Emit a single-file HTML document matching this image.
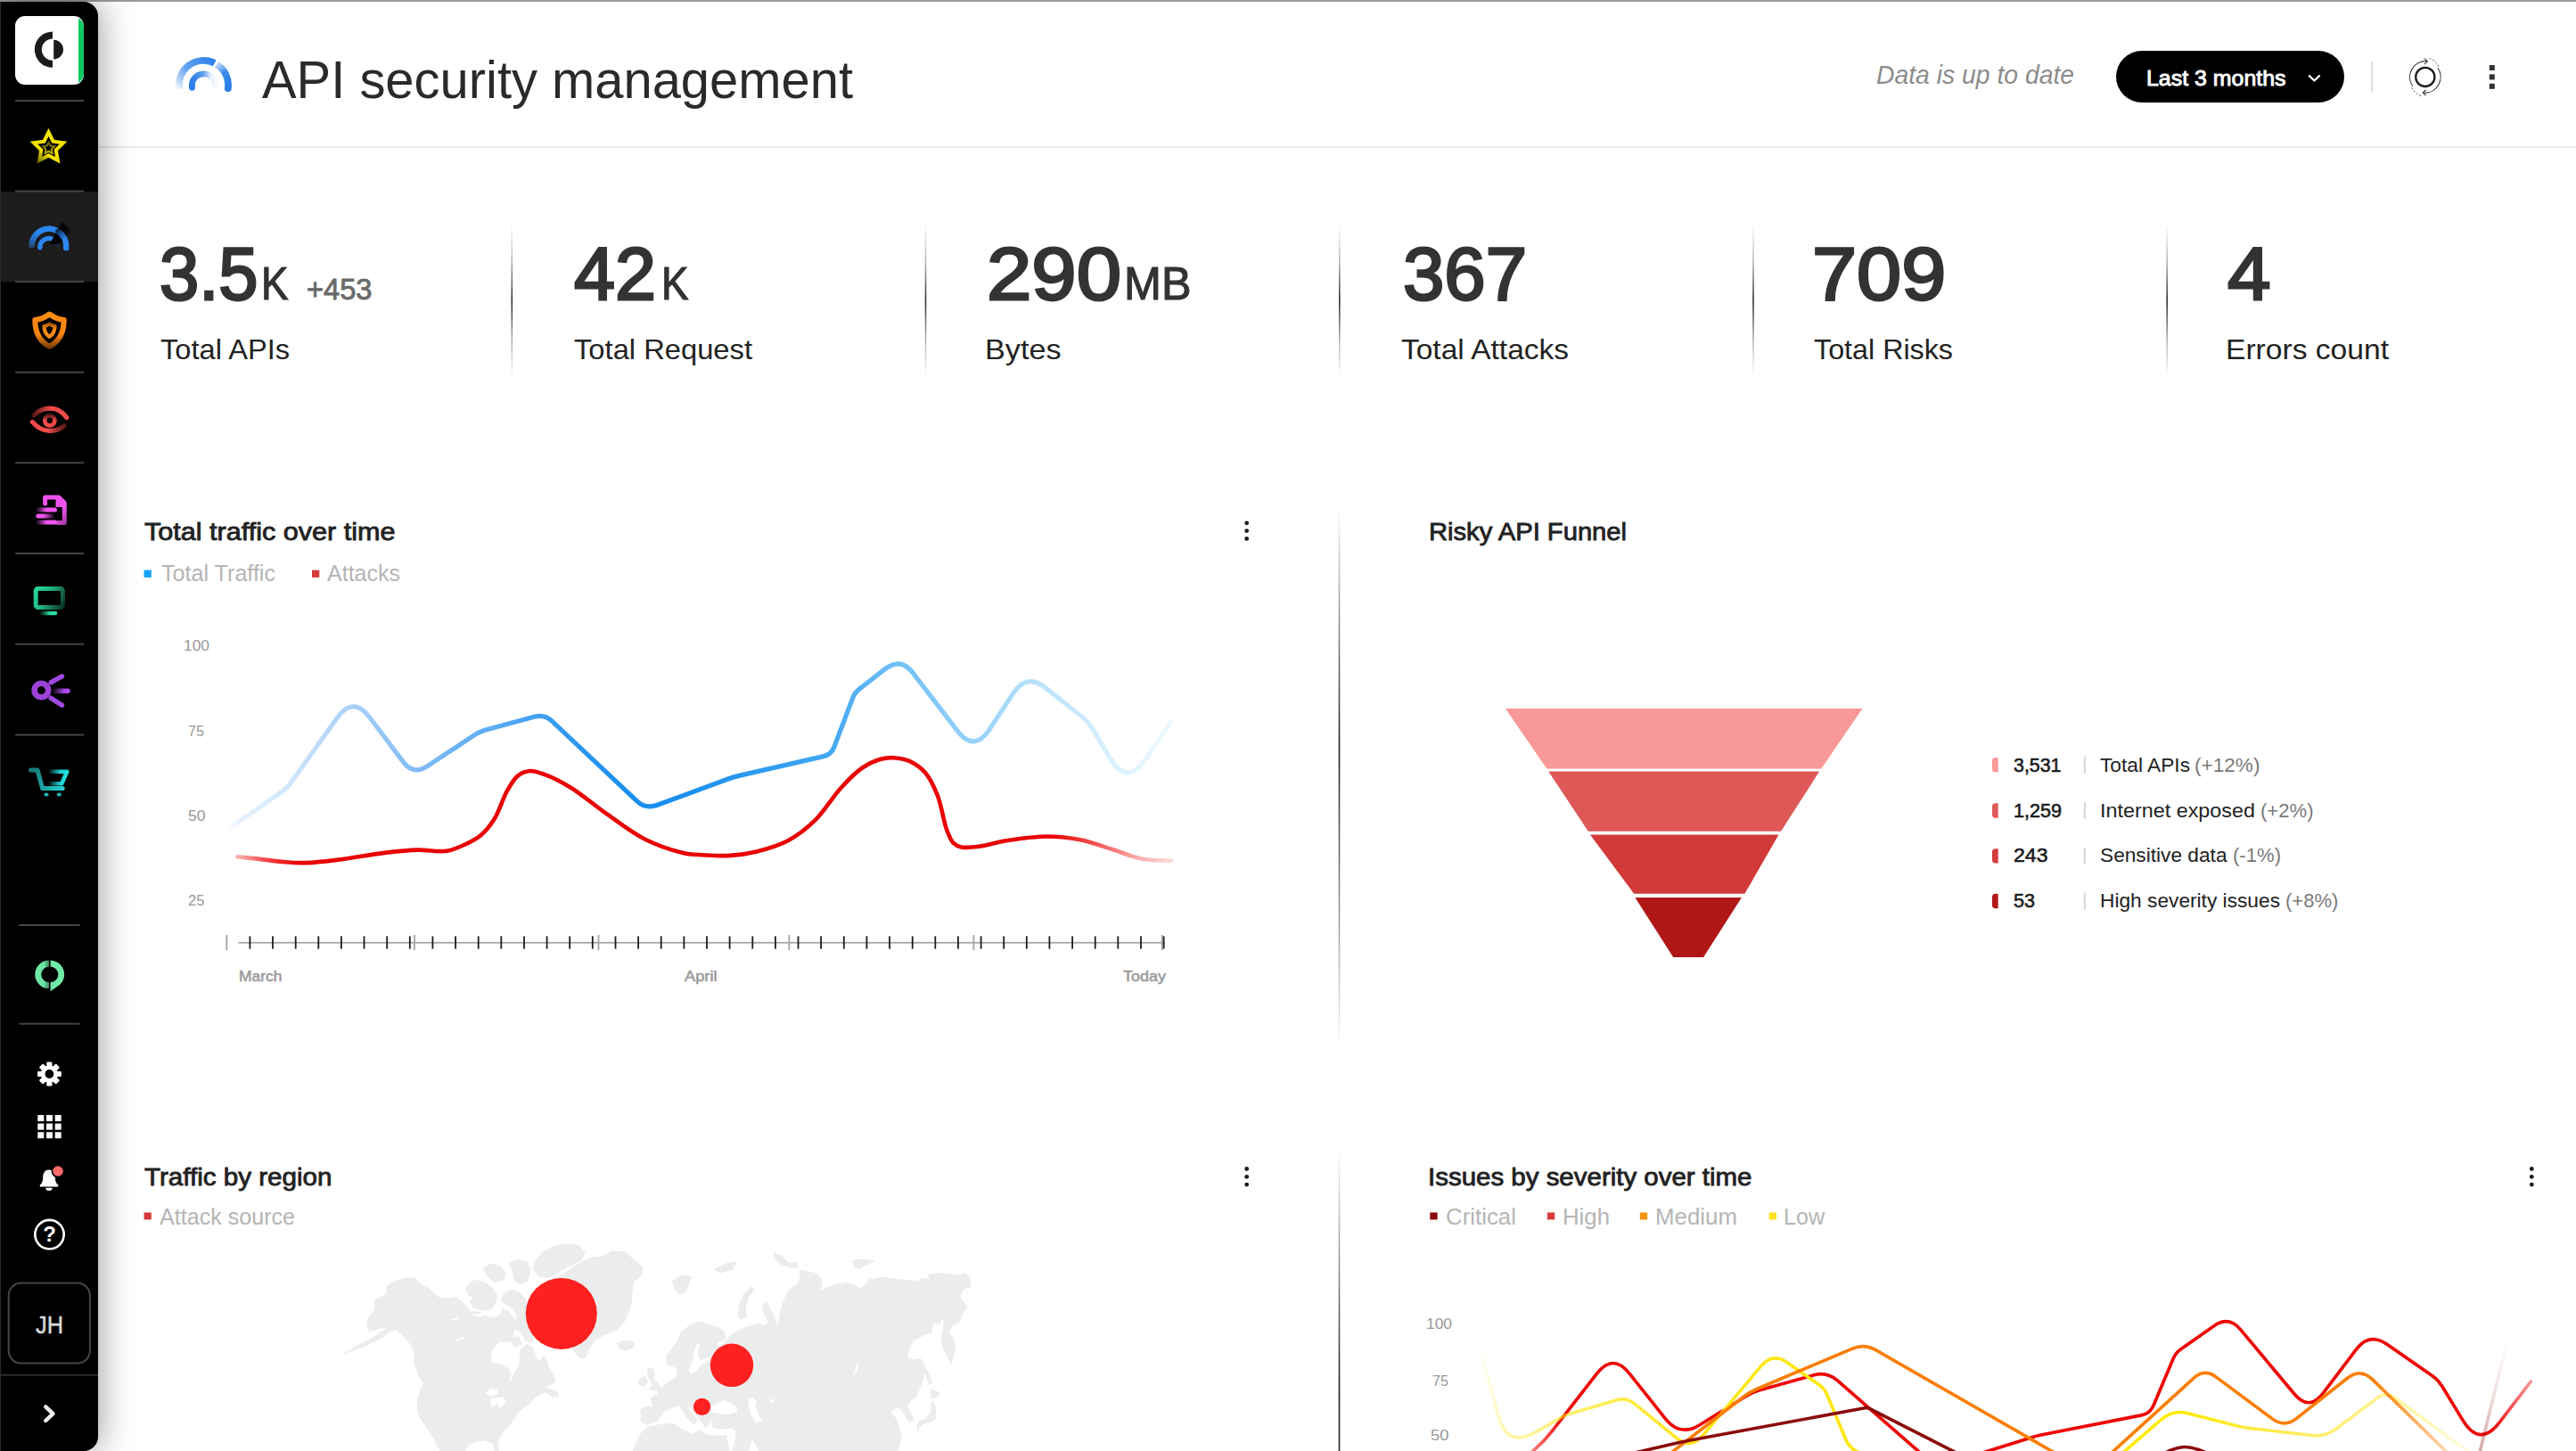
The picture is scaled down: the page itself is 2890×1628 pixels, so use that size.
<!DOCTYPE html>
<html lang="en"><head><meta charset="utf-8"><title>API security management</title>
<style>
html,body{margin:0;padding:0;background:#fff;}
body{width:2890px;height:1628px;overflow:hidden;font-family:"Liberation Sans",sans-serif;}
#page{position:relative;width:2890px;height:1628px;overflow:hidden;background:#fff;}
.t{position:absolute;white-space:nowrap;transform-origin:0 50%;font-family:"Liberation Sans",sans-serif;}
#main{position:absolute;left:0;top:0;}
.abs{position:absolute;}

</style></head>
<body>
<div id="page">
<div class="abs" style="left:0;top:0;width:2890px;height:2px;background:#9b9b9b"></div>
<div class="abs" style="left:110px;top:164px;width:2780px;height:2px;background:#e9e9e9"></div>
<div class="abs" style="left:2374px;top:57px;width:256px;height:58px;border-radius:29px;background:#000"></div>
<div class="abs" style="left:2660px;top:69px;width:2px;height:34px;background:#e0e0e0"></div>

<svg id="main" width="2890" height="1628" viewBox="0 0 2890 1628">
<g>
<path d="M421.0 1468.7L420.2 1458.9L427.6 1455.6L434.1 1450.7L434.9 1442.5L445.6 1436.7L457.1 1433.5L465.3 1434.3L471.8 1440.8L481.7 1446.6L491.5 1455.6L501.4 1457.2L511.2 1455.6L517.8 1460.5L524.3 1467.1L528.4 1472.0L537.5 1472.0L545.7 1476.9L553.9 1479.4L562.1 1475.3L563.7 1468.7L570.3 1472.0L576.8 1479.4L580.1 1488.4L575.2 1495.0L576.8 1503.2L570.3 1504.8L560.4 1504.8L553.9 1511.4L549.8 1521.2L552.2 1529.4L560.4 1531.1L570.3 1536.0L573.5 1542.5L570.3 1549.1L574.4 1549.9L576.8 1540.9L582.6 1532.7L583.4 1521.2L585.0 1513.0L591.6 1508.1L598.1 1513.0L601.4 1524.5L606.3 1527.0L609.6 1521.2L612.9 1526.1L616.2 1536.0L621.1 1544.2L622.7 1549.9L616.2 1554.0L609.6 1555.7L616.2 1558.9L624.4 1560.6L626.8 1567.1L617.8 1566.3L612.9 1561.4L606.3 1563.9L598.1 1569.6L593.2 1575.3L585.0 1581.1L579.3 1586.8L575.2 1593.4L570.3 1600.8L563.7 1606.5L559.6 1613.1L558.0 1619.6L559.6 1629.5L555.5 1629.5L553.0 1619.6L544.0 1615.5L534.2 1617.2L526.0 1620.4L520.2 1629.5L494.8 1629.5L486.6 1613.1L480.9 1604.9L476.8 1598.3L471.0 1590.1L468.6 1580.3L468.6 1570.4L471.8 1560.6L475.9 1552.4L470.2 1544.2L467.7 1536.0L464.5 1527.8L465.3 1517.9L462.0 1509.7L455.4 1501.5L448.9 1495.0L444.0 1490.9L437.4 1494.1L429.2 1499.9L417.7 1506.5L401.3 1513.0L386.6 1518.8L399.7 1510.6L414.4 1503.2L427.6 1495.0L435.8 1490.0L427.6 1490.0L414.4 1493.3L412.0 1486.8L412.8 1480.2Z M522.7 1446.6L528.4 1439.2L534.2 1435.9L544.0 1439.2L552.2 1445.8L557.1 1454.0L556.3 1462.2L550.6 1468.7L540.7 1470.4L530.9 1467.1L527.6 1460.5L532.5 1455.6L526.0 1453.1Z M542.4 1422.8L552.2 1417.9L560.4 1420.3L567.0 1427.7L565.3 1435.9L555.5 1438.4L547.3 1432.6Z M571.9 1417.9L581.7 1413.0L591.6 1416.2L594.9 1426.1L591.6 1437.6L583.4 1440.8L576.8 1435.9L575.2 1426.1Z M565.3 1452.3L573.5 1447.4L583.4 1450.7L589.9 1458.9L591.6 1468.7L590.8 1481.8L594.9 1490.0L599.8 1498.2L596.5 1506.5L589.9 1503.2L585.0 1495.0L576.8 1490.0L580.1 1478.6L576.8 1468.7L568.6 1463.8L562.1 1458.9Z M598.1 1424.4L601.4 1414.6L609.6 1404.8L619.5 1399.0L632.6 1396.2L649.0 1397.4L656.4 1405.6L650.6 1414.6L639.1 1420.3L629.3 1425.3L621.1 1431.0L612.9 1433.5L604.7 1431.8Z M573.5 1503.2L581.7 1499.9L585.0 1508.1L576.8 1511.4Z M632.6 1429.4L642.4 1422.0L655.5 1414.6L665.4 1410.5L675.2 1410.5L686.7 1403.9L701.5 1404.8L709.7 1413.0L721.2 1422.0L719.5 1431.0L711.3 1437.6L708.9 1449.0L708.0 1462.2L704.7 1473.6L699.8 1483.5L691.6 1491.7L678.5 1497.4L667.0 1503.2L660.5 1513.0L657.2 1522.9L652.3 1523.7L645.7 1517.9L640.8 1509.7L626.0 1504.8L609.6 1491.7L599.8 1475.3L598.1 1458.9L606.3 1444.1L617.8 1435.9Z M692.4 1507.3L699.8 1504.0L710.5 1505.6L711.3 1510.6L703.1 1514.7L695.7 1513.0Z M754.1 1437.6L765.6 1431.0L775.4 1432.6L772.2 1442.5L768.9 1449.0L762.3 1452.3L757.4 1445.8Z M801.7 1424.4L814.8 1417.9L826.3 1416.2L821.4 1424.4L808.2 1427.7Z M827.9 1476.9L829.6 1463.8L834.5 1452.3L842.7 1444.1L846.0 1446.6L839.4 1455.6L836.1 1467.1L837.0 1476.9L831.2 1480.2Z M867.3 1405.6L877.1 1409.7L885.3 1417.9L893.5 1416.2L895.2 1422.8L883.7 1421.2L872.2 1416.2Z M957.5 1414.6L969.0 1413.0L980.5 1414.6L970.6 1419.5L962.4 1422.8Z M717.2 1547.5L723.0 1544.2L726.2 1549.9L723.0 1554.8L717.2 1554.0Z M727.1 1536.0L731.2 1534.3L734.4 1540.9L732.8 1545.8L737.7 1551.6L741.0 1557.3L737.7 1559.8L729.5 1558.9L732.0 1552.4L728.7 1547.5L726.2 1540.9Z M719.7 1595.0L718.9 1581.9L724.6 1578.6L732.8 1578.6L730.3 1568.8L738.5 1563.9L737.7 1560.6L744.3 1555.7L750.8 1549.9L757.4 1546.6L760.7 1540.9L758.2 1534.3L763.1 1532.7L765.6 1538.4L768.9 1537.6L749.2 1531.1L747.6 1521.2L754.1 1513.0L760.7 1504.8L764.0 1495.0L772.2 1488.4L783.6 1483.2L796.8 1486.8L806.6 1490.0L813.2 1495.8L812.4 1503.2L805.0 1504.8L803.3 1508.1L808.2 1511.4L814.8 1504.8L819.7 1498.2L827.9 1493.3L839.4 1488.4L850.9 1485.9L857.5 1488.4L862.4 1483.5L857.5 1475.3L855.8 1463.8L860.7 1462.2L865.7 1472.0L870.6 1481.8L872.2 1493.3L873.9 1483.5L876.3 1468.7L880.4 1457.2L885.3 1447.4L895.2 1440.8L898.5 1431.0L896.8 1425.3L906.7 1426.9L916.5 1429.4L922.2 1437.6L919.8 1448.2L929.6 1444.1L941.1 1440.8L950.9 1439.2L959.1 1442.5L965.7 1446.6L975.5 1435.9L988.7 1433.0L1003.4 1435.1L1016.5 1436.7L1028.0 1437.6L1033.0 1435.1L1036.1 1434.3L1044.3 1437.6L1041.1 1431.0L1050.9 1428.5L1064.0 1429.4L1077.1 1431.0L1080.4 1429.4L1087.0 1432.6L1089.4 1443.3L1080.4 1445.8L1077.1 1454.0L1078.8 1458.9L1085.3 1466.3L1080.4 1472.0L1076.3 1483.5L1072.2 1485.1L1067.3 1488.4L1064.0 1495.0L1070.6 1504.8L1071.4 1514.7L1068.9 1524.5L1067.3 1530.2L1062.4 1521.2L1057.5 1511.4L1055.8 1503.2L1058.3 1491.7L1059.1 1481.8L1056.6 1476.9L1054.2 1485.1L1047.6 1483.5L1044.3 1495.0L1036.1 1498.2L1024.7 1503.2L1020.6 1511.4L1017.3 1522.9L1024.7 1526.1L1031.2 1524.5L1036.1 1536.0L1035.3 1547.5L1031.2 1558.9L1027.9 1567.1L1022.2 1570.4L1017.3 1578.6L1021.4 1585.2L1024.7 1591.7L1020.6 1595.8L1014.8 1586.8L1011.5 1580.3L1005.0 1578.6L998.4 1585.2L1005.0 1591.7L1008.2 1601.6L1011.5 1611.4L1008.2 1622.9L1006.6 1629.5L852.5 1629.5L847.6 1619.6L844.3 1614.7L841.1 1619.6L839.4 1629.5L821.4 1629.5L824.7 1619.6L826.3 1606.5L821.4 1601.6L811.5 1603.2L800.0 1601.6L798.4 1595.0L805.0 1590.1L798.4 1591.7L795.1 1596.7L791.8 1601.6L788.6 1596.7L782.0 1588.5L775.4 1580.3L768.9 1575.3L770.5 1578.6L775.4 1585.2L782.0 1593.4L778.7 1598.3L772.2 1591.7L765.6 1581.9L762.3 1577.0L754.1 1578.6L744.3 1583.5L737.7 1593.4L726.2 1598.3Z M709.8 1629.5L718.0 1609.8L726.2 1601.6L741.0 1598.3L755.8 1597.5L763.1 1603.2L777.1 1609.0L785.3 1604.9L791.8 1609.8L805.0 1611.4L814.8 1610.6L818.1 1629.5Z M1032.9 1524.5L1036.1 1531.1L1042.7 1542.5L1045.2 1552.4L1042.7 1553.2L1038.6 1542.5L1033.7 1531.1Z M1044.3 1558.9L1053.4 1562.2L1050.9 1567.1L1045.2 1569.6Z M1046.0 1572.1L1049.3 1578.6L1050.1 1590.1L1044.3 1595.0L1036.1 1596.7L1031.2 1601.6L1030.4 1605.7L1028.8 1599.9L1031.2 1595.0L1039.4 1591.7L1044.3 1585.2L1045.2 1577.0Z M956.6 1414.6L965.6 1413.0L971.3 1416.2L965.6 1422.8L959.0 1421.2Z M1078.0 1431.0L1082.1 1429.4L1087.0 1432.6L1083.7 1435.9Z" fill="#ebecec" stroke="#ebecec" stroke-width="1.2" stroke-linejoin="round"/>
<path d="M544.0 1562.2L551.4 1558.1L558.0 1559.8L558.8 1564.2L550.6 1566.8Z M550.6 1569.6L556.3 1568.0L565.3 1567.5L567.0 1574.5L559.6 1580.3L558.0 1573.7L553.9 1578.6L550.6 1577.0Z M506.3 1479.9L514.5 1477.7L514.8 1479.6L507.1 1482.2Z M511.2 1503.5L521.1 1499.6L521.7 1501.2L512.2 1505.1Z M528.4 1475.3L542.4 1472.8L548.9 1474.5L537.5 1477.7Z M772.2 1537.6L777.1 1527.8L778.7 1516.3L782.0 1508.1L784.5 1507.3L782.8 1519.6L785.3 1526.1L791.8 1523.7L798.4 1522.9L796.8 1526.1L786.9 1531.1L782.0 1537.6L775.4 1541.7Z M797.6 1578.6L805.0 1574.5L813.2 1570.4L818.1 1573.7L826.3 1578.6L827.1 1584.4L818.1 1586.8L806.6 1586.0L798.4 1584.4Z M839.4 1570.4L844.3 1568.0L849.3 1572.1L847.6 1578.6L850.9 1586.8L855.8 1595.0L847.6 1595.8L842.7 1586.8L840.2 1578.6Z M863.2 1570.4L866.5 1569.6L868.1 1572.9L864.8 1574.5Z M960.8 1528.6L962.8 1532.7L960.8 1540.1L956.7 1545.0L959.1 1537.6Z" fill="#fff"/>
<circle cx="629.8" cy="1473.9" r="40" fill="#ff2020"/>
<circle cx="821" cy="1531.8" r="24.2" fill="#ff2020"/>
<circle cx="787.6" cy="1578.4" r="9.6" fill="#ff2020"/>
</g>

<defs>
<linearGradient id="gBlue" gradientUnits="userSpaceOnUse" x1="250" y1="0" x2="1314" y2="0"><stop offset="0.0000" stop-color="#eef6ff" stop-opacity="0.0"/><stop offset="0.0188" stop-color="#e6f1fd"/><stop offset="0.0677" stop-color="#d2e6fb"/><stop offset="0.1372" stop-color="#a9d0f8"/><stop offset="0.2039" stop-color="#80bbf6"/><stop offset="0.2707" stop-color="#63aef5"/><stop offset="0.3336" stop-color="#3f9ff2"/><stop offset="0.4229" stop-color="#1a8fee"/><stop offset="0.4793" stop-color="#1a8fee"/><stop offset="0.5376" stop-color="#2797ef"/><stop offset="0.6353" stop-color="#41a6f2"/><stop offset="0.6701" stop-color="#58b3f4"/><stop offset="0.7115" stop-color="#6fbff6"/><stop offset="0.7914" stop-color="#98d2f9"/><stop offset="0.8506" stop-color="#b5e0fb"/><stop offset="0.9117" stop-color="#d0ebfc"/><stop offset="0.9539" stop-color="#e0f3fd"/><stop offset="1.0000" stop-color="#eef9fe"/></linearGradient>
<linearGradient id="gRed" gradientUnits="userSpaceOnUse" x1="266" y1="0" x2="1314" y2="0"><stop offset="0.0000" stop-color="#f20000" stop-opacity="0.3"/><stop offset="0.0324" stop-color="#ee0000" stop-opacity="0.75"/><stop offset="0.0658" stop-color="#e90000"/><stop offset="0.8721" stop-color="#e90000"/><stop offset="0.9198" stop-color="#ee1c1c" stop-opacity="0.75"/><stop offset="0.9676" stop-color="#f23030" stop-opacity="0.38"/><stop offset="1.0000" stop-color="#f44" stop-opacity="0.2"/></linearGradient>
<linearGradient id="gDivK" x1="0" y1="0" x2="0" y2="1"><stop offset="0" stop-color="#2c2c2c" stop-opacity="0"/><stop offset=".25" stop-color="#2c2c2c" stop-opacity=".36"/><stop offset=".5" stop-color="#2a2a2a" stop-opacity=".98"/><stop offset=".75" stop-color="#2c2c2c" stop-opacity=".36"/><stop offset="1" stop-color="#2c2c2c" stop-opacity="0"/></linearGradient>
<linearGradient id="gDivV" x1="0" y1="0" x2="0" y2="1"><stop offset="0" stop-color="#1c1c1c" stop-opacity="0"/><stop offset=".45" stop-color="#1c1c1c" stop-opacity="1"/><stop offset="1" stop-color="#1c1c1c" stop-opacity="0"/></linearGradient>
<linearGradient id="gDivV2" x1="0" y1="0" x2="0" y2="1"><stop offset="0" stop-color="#1c1c1c" stop-opacity="0"/><stop offset=".8" stop-color="#1c1c1c" stop-opacity="1"/><stop offset="1" stop-color="#1c1c1c" stop-opacity=".95"/></linearGradient>
<linearGradient id="gLow" gradientUnits="userSpaceOnUse" x1="1659" y1="0" x2="2770" y2="0"><stop offset="0.0000" stop-color="#ffe617" stop-opacity="0.0"/><stop offset="0.0279" stop-color="#ffe617" stop-opacity="0.35"/><stop offset="0.0909" stop-color="#ffe617" stop-opacity="0.62"/><stop offset="0.1809" stop-color="#ffe617" stop-opacity="0.9"/><stop offset="0.2169" stop-color="#ffe617"/><stop offset="0.7030" stop-color="#ffea00"/><stop offset="0.7750" stop-color="#ffe617" stop-opacity="0.85"/><stop offset="0.8650" stop-color="#ffe617" stop-opacity="0.6"/><stop offset="0.9370" stop-color="#ffe617" stop-opacity="0.4"/><stop offset="1.0000" stop-color="#ffe617" stop-opacity="0.12"/></linearGradient>
<linearGradient id="gHigh" gradientUnits="userSpaceOnUse" x1="1700" y1="0" x2="2840" y2="0"><stop offset="0.0000" stop-color="#ee0000" stop-opacity="0.25"/><stop offset="0.0193" stop-color="#ee0000" stop-opacity="0.55"/><stop offset="0.0482" stop-color="#ee0000"/><stop offset="0.9605" stop-color="#ee0000"/><stop offset="1.0000" stop-color="#f02020" stop-opacity="0.45"/></linearGradient>
<linearGradient id="gMed" gradientUnits="userSpaceOnUse" x1="1860" y1="0" x2="2745" y2="0"><stop offset="0.0000" stop-color="#fa7d00"/><stop offset="0.9040" stop-color="#fa7d00"/><stop offset="0.9492" stop-color="#fa7d00" stop-opacity="0.7"/><stop offset="1.0000" stop-color="#fa7d00" stop-opacity="0.3"/></linearGradient>
<linearGradient id="gCr3" gradientUnits="userSpaceOnUse" x1="0" y1="1506" x2="0" y2="1628"><stop offset="0.0000" stop-color="#8b0a0a" stop-opacity="0.0"/><stop offset="0.4426" stop-color="#8b0a0a" stop-opacity="0.12"/><stop offset="1.0000" stop-color="#8b0a0a" stop-opacity="0.35"/></linearGradient>
<linearGradient id="gHa" gradientUnits="userSpaceOnUse" x1="201" y1="101" x2="236" y2="64"><stop offset="0" stop-color="#2c80e8" stop-opacity=".06"/><stop offset=".45" stop-color="#4a94ec" stop-opacity=".85"/><stop offset="1" stop-color="#2a7fe8"/></linearGradient>
<linearGradient id="gHb" gradientUnits="userSpaceOnUse" x1="241" y1="70" x2="256" y2="96"><stop offset="0" stop-color="#2a7fe8" stop-opacity=".12"/><stop offset=".5" stop-color="#2a7fe8" stop-opacity=".9"/><stop offset="1" stop-color="#2a7fe8"/></linearGradient>
<linearGradient id="gHc" gradientUnits="userSpaceOnUse" x1="215" y1="90" x2="242" y2="90"><stop offset="0" stop-color="#2a7fe8"/><stop offset=".45" stop-color="#3c8aea" stop-opacity=".85"/><stop offset=".8" stop-color="#2a7fe8" stop-opacity=".12"/><stop offset="1" stop-color="#2a7fe8" stop-opacity=".04"/></linearGradient>
</defs>
<path d="M250.7 934.0L317.0 887.7Q321.9 884.3 325.4 879.4L378.3 805.3Q396.1 780.4 414.6 804.8L452.6 855.1Q463.9 869.9 479.4 859.7L533.1 824.2Q538.1 820.9 543.9 819.3L600.0 804.1Q610.8 801.2 619.0 808.8L714.4 898.6Q724.4 908.1 737.3 903.3L814.7 874.7Q822.2 871.9 830.0 870.1L923.8 848.6Q932.6 846.6 935.8 838.2L956.9 782.7Q959.0 777.1 963.8 773.4L992.6 750.9Q1010.4 736.9 1024.1 754.9L1073.8 819.7Q1092.9 844.7 1110.1 818.4L1136.8 777.8Q1151.9 754.9 1173.4 772.0L1215.2 805.2Q1220.7 809.6 1224.3 815.6L1245.5 850.9Q1264.3 882.1 1285.0 852.1L1314.0 810.2" fill="none" stroke="url(#gBlue)" stroke-width="5.2" stroke-linecap="round" stroke-linejoin="round"/>
<path d="M266.4 961.3C272.5 961.9 277.7 962.3 284.8 963.1C294.7 964.2 309.7 966.5 320.4 967.3C329.1 968.0 335.3 968.4 344.0 968.1C354.7 967.8 366.6 966.2 379.6 964.6C395.6 962.6 417.0 958.5 433.0 956.6C446.0 955.1 456.9 953.9 468.5 953.6C479.6 953.3 491.5 956.3 501.0 954.8C508.9 953.6 515.4 950.4 521.9 947.4C528.2 944.5 534.3 941.5 539.6 937.0C545.2 932.2 549.9 926.5 554.4 919.3C560.0 910.4 564.2 895.5 569.3 886.7C573.1 880.1 576.4 874.0 581.0 870.4C584.9 867.3 589.7 865.4 594.4 865.0C599.5 864.6 604.6 866.7 610.7 868.9C619.3 872.0 630.1 877.4 640.4 883.7C652.7 891.2 665.5 902.5 678.9 911.9C693.1 921.8 708.0 933.9 723.3 941.5C737.7 948.7 755.4 954.5 767.8 957.2C776.2 959.1 781.8 958.8 789.6 959.3C798.7 959.8 809.4 960.5 819.3 959.9C829.2 959.3 838.7 957.9 848.9 955.4C860.3 952.6 873.5 948.8 884.4 943.0C895.2 937.2 904.7 929.8 914.1 920.7C924.7 910.5 934.0 894.2 943.7 883.7C951.7 875.0 959.3 867.0 967.4 861.5C974.2 856.9 981.6 853.5 988.1 851.7C993.3 850.2 997.8 849.9 1003.0 850.2C1008.7 850.5 1015.1 851.5 1020.7 854.1C1026.9 857.0 1033.5 861.6 1038.5 867.4C1044.2 874.0 1048.1 883.1 1051.9 892.6C1056.3 903.9 1058.5 921.4 1062.2 931.1C1064.6 937.3 1066.4 942.7 1069.6 945.9C1072.1 948.4 1074.8 949.6 1078.5 950.4C1083.6 951.5 1090.6 950.7 1097.8 949.8C1107.3 948.7 1118.6 944.8 1130.4 943.0C1144.0 940.9 1160.5 938.5 1174.8 938.5C1188.1 938.5 1200.8 939.9 1213.3 942.4C1225.5 944.9 1237.3 949.7 1248.9 953.3C1260.0 956.8 1270.5 961.6 1281.5 963.7C1292.2 965.7 1303.2 965.1 1314.0 965.8" fill="none" stroke="url(#gRed)" stroke-width="4.6" stroke-linecap="round" stroke-linejoin="round"/>
<rect x="267.5" y="1056.9" width="1039.5" height="1.6" fill="#9c9c9c"/>
<rect x="253.4" y="1049" width="1.8" height="17" fill="#a4a4a4"/>
<rect x="464.1" y="1049" width="1.8" height="17" fill="#a4a4a4"/>
<rect x="670.6" y="1049" width="1.8" height="17" fill="#a4a4a4"/>
<rect x="884.4" y="1049" width="1.8" height="17" fill="#a4a4a4"/>
<rect x="1091.5" y="1049" width="1.8" height="17" fill="#a4a4a4"/>
<rect x="1302.8" y="1049" width="1.8" height="17" fill="#a4a4a4"/>
<rect x="279.5" y="1050.4" width="1.8" height="14.2" fill="#1c1c1c"/>
<rect x="305.1" y="1050.4" width="1.8" height="14.2" fill="#1c1c1c"/>
<rect x="330.8" y="1050.4" width="1.8" height="14.2" fill="#1c1c1c"/>
<rect x="356.4" y="1050.4" width="1.8" height="14.2" fill="#1c1c1c"/>
<rect x="382.0" y="1050.4" width="1.8" height="14.2" fill="#1c1c1c"/>
<rect x="407.6" y="1050.4" width="1.8" height="14.2" fill="#1c1c1c"/>
<rect x="433.3" y="1050.4" width="1.8" height="14.2" fill="#1c1c1c"/>
<rect x="458.9" y="1050.4" width="1.8" height="14.2" fill="#1c1c1c"/>
<rect x="484.5" y="1050.4" width="1.8" height="14.2" fill="#1c1c1c"/>
<rect x="510.2" y="1050.4" width="1.8" height="14.2" fill="#1c1c1c"/>
<rect x="535.8" y="1050.4" width="1.8" height="14.2" fill="#1c1c1c"/>
<rect x="561.4" y="1050.4" width="1.8" height="14.2" fill="#1c1c1c"/>
<rect x="587.1" y="1050.4" width="1.8" height="14.2" fill="#1c1c1c"/>
<rect x="612.7" y="1050.4" width="1.8" height="14.2" fill="#1c1c1c"/>
<rect x="638.3" y="1050.4" width="1.8" height="14.2" fill="#1c1c1c"/>
<rect x="663.9" y="1050.4" width="1.8" height="14.2" fill="#1c1c1c"/>
<rect x="689.6" y="1050.4" width="1.8" height="14.2" fill="#1c1c1c"/>
<rect x="715.2" y="1050.4" width="1.8" height="14.2" fill="#1c1c1c"/>
<rect x="740.8" y="1050.4" width="1.8" height="14.2" fill="#1c1c1c"/>
<rect x="766.5" y="1050.4" width="1.8" height="14.2" fill="#1c1c1c"/>
<rect x="792.1" y="1050.4" width="1.8" height="14.2" fill="#1c1c1c"/>
<rect x="817.7" y="1050.4" width="1.8" height="14.2" fill="#1c1c1c"/>
<rect x="843.4" y="1050.4" width="1.8" height="14.2" fill="#1c1c1c"/>
<rect x="869.0" y="1050.4" width="1.8" height="14.2" fill="#1c1c1c"/>
<rect x="894.6" y="1050.4" width="1.8" height="14.2" fill="#1c1c1c"/>
<rect x="920.2" y="1050.4" width="1.8" height="14.2" fill="#1c1c1c"/>
<rect x="945.9" y="1050.4" width="1.8" height="14.2" fill="#1c1c1c"/>
<rect x="971.5" y="1050.4" width="1.8" height="14.2" fill="#1c1c1c"/>
<rect x="997.1" y="1050.4" width="1.8" height="14.2" fill="#1c1c1c"/>
<rect x="1022.8" y="1050.4" width="1.8" height="14.2" fill="#1c1c1c"/>
<rect x="1048.4" y="1050.4" width="1.8" height="14.2" fill="#1c1c1c"/>
<rect x="1074.0" y="1050.4" width="1.8" height="14.2" fill="#1c1c1c"/>
<rect x="1099.7" y="1050.4" width="1.8" height="14.2" fill="#1c1c1c"/>
<rect x="1125.3" y="1050.4" width="1.8" height="14.2" fill="#1c1c1c"/>
<rect x="1150.9" y="1050.4" width="1.8" height="14.2" fill="#1c1c1c"/>
<rect x="1176.5" y="1050.4" width="1.8" height="14.2" fill="#1c1c1c"/>
<rect x="1202.2" y="1050.4" width="1.8" height="14.2" fill="#1c1c1c"/>
<rect x="1227.8" y="1050.4" width="1.8" height="14.2" fill="#1c1c1c"/>
<rect x="1253.4" y="1050.4" width="1.8" height="14.2" fill="#1c1c1c"/>
<rect x="1279.1" y="1050.4" width="1.8" height="14.2" fill="#1c1c1c"/>
<rect x="1304.7" y="1050.4" width="1.8" height="14.2" fill="#1c1c1c"/>
<rect x="161.5" y="639.6" width="8.3" height="8.3" fill="#14a4fb"/>
<rect x="350" y="639.6" width="8.3" height="8.3" fill="#d63a3a"/>
<rect x="161.5" y="1360.4" width="8.3" height="8" fill="#d63a3a"/>
<rect x="1604.3" y="1360.4" width="8.3" height="8" fill="#8b0a0a"/>
<rect x="1736" y="1360.4" width="8.3" height="8" fill="#d63a3a"/>
<rect x="1839.8" y="1360.4" width="8.3" height="8" fill="#f5920e"/>
<rect x="1984.6" y="1360.4" width="8.3" height="8" fill="#ffe11d"/>
<circle cx="1398.7" cy="586.8" r="2.4" fill="#1a1a1a"/>
<circle cx="1398.7" cy="595.6" r="2.4" fill="#1a1a1a"/>
<circle cx="1398.7" cy="604.4" r="2.4" fill="#1a1a1a"/>
<circle cx="1398.7" cy="1311.5" r="2.4" fill="#1a1a1a"/>
<circle cx="1398.7" cy="1320.3" r="2.4" fill="#1a1a1a"/>
<circle cx="1398.7" cy="1329.1" r="2.4" fill="#1a1a1a"/>
<circle cx="2840.3" cy="1311.5" r="2.4" fill="#1a1a1a"/>
<circle cx="2840.3" cy="1320.3" r="2.4" fill="#1a1a1a"/>
<circle cx="2840.3" cy="1329.1" r="2.4" fill="#1a1a1a"/>
<rect x="573.5" y="252" width="1.6" height="171" fill="url(#gDivK)"/>
<rect x="1037.7" y="252" width="1.6" height="171" fill="url(#gDivK)"/>
<rect x="1502.0" y="252" width="1.6" height="171" fill="url(#gDivK)"/>
<rect x="1966.2" y="252" width="1.6" height="171" fill="url(#gDivK)"/>
<rect x="2430.4" y="252" width="1.6" height="171" fill="url(#gDivK)"/>
<rect x="1501.7" y="566" width="1.6" height="610" fill="url(#gDivV)"/>
<rect x="1501.7" y="1290" width="1.6" height="338" fill="url(#gDivV2)"/>
<path d="M1689 795 H2089.4 L2043.3 862.5 H1735.3 Z" fill="#f99898"/>
<path d="M1737.2 865.6 H2041.1 L1998 932.8 H1781.9 Z" fill="#de5858"/>
<path d="M1784 936.5 H1995.5 L1957.4 1002.8 H1833.2 Z" fill="#d23a3a"/>
<path d="M1834.4 1007 H1953.9 L1911.1 1074.1 H1877.2 Z" fill="#b01717"/>
<path d="M2241.7 850.1 V866.5 H2238.9 A4 4 0 0 1 2234.9 862.5 V854.1 A4 4 0 0 1 2238.9 850.1 Z" fill="#fb9a9a"/>
<rect x="2338" y="848.8" width="1.8" height="19" fill="#d4d4d4"/>
<path d="M2241.7 901.3 V917.7 H2238.9 A4 4 0 0 1 2234.9 913.7 V905.3 A4 4 0 0 1 2238.9 901.3 Z" fill="#e05c5c"/>
<rect x="2338" y="900.0" width="1.8" height="19" fill="#d4d4d4"/>
<path d="M2241.7 952.2 V968.6 H2238.9 A4 4 0 0 1 2234.9 964.6 V956.2 A4 4 0 0 1 2238.9 952.2 Z" fill="#d43c3c"/>
<rect x="2338" y="950.9" width="1.8" height="19" fill="#d4d4d4"/>
<path d="M2241.7 1002.8 V1019.2 H2238.9 A4 4 0 0 1 2234.9 1015.2 V1006.8 A4 4 0 0 1 2238.9 1002.8 Z" fill="#b21a1a"/>
<rect x="2338" y="1001.5" width="1.8" height="19" fill="#d4d4d4"/>
<path d="M1700.0 1645.0L1721.3 1626.7Q1731.9 1617.6 1740.5 1606.6L1791.5 1541.2Q1809.7 1517.9 1828.1 1541.1L1868.7 1592.1Q1884.9 1612.4 1906.9 1598.7L1959.7 1566.0Q1966.5 1561.8 1974.2 1559.7L2034.9 1542.8Q2049.6 1538.8 2061.1 1548.7L2160.0 1635.0" fill="none" stroke="url(#gHigh)" stroke-width="3.65" stroke-linecap="round" stroke-linejoin="round"/>
<path d="M2200.0 1637.5L2279.4 1612.8Q2285.1 1611.0 2291.0 1609.8L2402.4 1587.9Q2412.2 1585.9 2416.1 1576.7L2438.2 1524.2Q2441.0 1517.7 2446.7 1513.7L2483.8 1487.7Q2500.4 1476.0 2513.5 1491.6L2574.0 1564.0Q2590.7 1583.9 2606.3 1563.2L2643.6 1513.8Q2658.1 1494.6 2677.9 1508.3L2728.6 1543.4Q2735.2 1547.9 2739.4 1554.8L2763.1 1593.6Q2782.0 1624.5 2804.2 1595.8L2839.5 1549.9" fill="none" stroke="url(#gHigh)" stroke-width="3.65" stroke-linecap="round" stroke-linejoin="round"/>
<path d="M1659.2 1509.1L1681.1 1589.2Q1691.0 1625.2 1723.4 1606.5L1751.4 1590.4Q1755.7 1587.9 1760.5 1586.5L1813.1 1571.0Q1824.7 1567.6 1834.0 1575.2L1880.8 1613.3Q1896.9 1626.5 1910.3 1610.6L1975.8 1532.7Q1988.7 1517.4 2005.1 1528.8L2041.2 1554.0Q2046.9 1558.0 2049.6 1564.5L2070.9 1615.3Q2074.8 1624.5 2083.8 1628.8L2095.0 1634.0" fill="none" stroke="url(#gLow)" stroke-width="3.65" stroke-linecap="round" stroke-linejoin="round"/>
<path d="M2370.0 1640.0L2424.8 1592.7Q2437.9 1581.3 2454.7 1585.7L2510.3 1600.0Q2516.1 1601.5 2522.1 1602.2L2593.4 1610.5Q2608.6 1612.3 2620.8 1603.1L2666.8 1568.7Q2676.8 1561.2 2686.8 1568.6L2785.0 1640.0" fill="none" stroke="url(#gLow)" stroke-width="3.65" stroke-linecap="round" stroke-linejoin="round"/>
<path d="M1862.0 1640.0L1955.9 1567.2Q1963.1 1561.7 1971.4 1558.2L2078.3 1513.1Q2091.8 1507.5 2104.4 1514.7L2320.0 1638.6" fill="none" stroke="url(#gMed)" stroke-width="3.65" stroke-linecap="round" stroke-linejoin="round"/>
<path d="M2358.0 1640.0L2461.0 1546.3Q2473.1 1535.2 2486.4 1545.1L2549.3 1591.9Q2563.1 1602.1 2576.6 1591.4L2633.2 1546.5Q2648.2 1534.6 2661.8 1547.9L2756.0 1640.0" fill="none" stroke="url(#gMed)" stroke-width="3.65" stroke-linecap="round" stroke-linejoin="round"/>
<path d="M1800.0 1638.0L1880.3 1619.2Q1886.1 1617.8 1892.0 1616.7L2091.9 1579.8Q2095.3 1579.2 2098.4 1580.8L2212.0 1638.8" fill="none" stroke="#8b0a0a" stroke-width="3.65" stroke-linecap="round" stroke-linejoin="round"/>
<path d="M2425.0 1632.0C2429.0 1630.2 2432.8 1627.9 2437.0 1626.5C2441.4 1625.0 2446.3 1623.6 2451.0 1623.5C2455.7 1623.4 2460.3 1624.7 2465.0 1626.0C2470.0 1627.4 2475.0 1630.0 2480.0 1632.0" fill="none" stroke="#8b0a0a" stroke-width="3.65" stroke-linecap="round" stroke-linejoin="round"/>
<path d="M2779 1640 L2782.4 1627.9 L2812.3 1506.4" fill="none" stroke="url(#gCr3)" stroke-width="3.65" stroke-linecap="round"/>
<path d="M201.2 99.8 A27.6 27.6 0 0 1 240.8 70.8" fill="none" stroke="url(#gHa)" stroke-width="7.7"/>
<path d="M242.9 72.0 A27.6 27.6 0 0 1 255.8 99.3" fill="none" stroke="url(#gHb)" stroke-width="7.7"/>
<circle cx="255.8" cy="99.3" r="3.85" fill="#2a7fe8"/>
<path d="M215.5 98.3 A13.2 13.2 0 1 1 241.6 97.8" fill="none" stroke="url(#gHc)" stroke-width="6.8"/>
<circle cx="215.5" cy="98.3" r="3.4" fill="#2a7fe8"/>
<path d="M2590.8 85.2 L2596.4 90.5 L2602 85.2" fill="none" stroke="#fff" stroke-width="2.3" stroke-linecap="round" stroke-linejoin="round"/>
<circle cx="2720.8" cy="86.4" r="10.6" fill="none" stroke="#1c1c1c" stroke-width="2.3"/>
<path d="M2706.6 96.5 A17.8 17.8 0 0 1 2722.5 68.7" fill="none" stroke="#333" stroke-width="1.1"/>
<path d="M2735 76.3 A17.8 17.8 0 0 1 2719.1 104.1" fill="none" stroke="#333" stroke-width="1.1"/>
<path d="M2725.5 65.2 A18.6 18.6 0 0 1 2736.5 76.5" fill="none" stroke="#555" stroke-width="1" stroke-dasharray="2.2 1.8"/>
<path d="M2716 107.6 A18.6 18.6 0 0 1 2705 96.3" fill="none" stroke="#555" stroke-width="1" stroke-dasharray="2.2 1.8"/>
<path d="M2720 65.6 L2723.4 68.8 L2720 72.2" fill="none" stroke="#333" stroke-width="1.1"/>
<path d="M2721.6 100.6 L2718.2 104 L2721.6 107.2" fill="none" stroke="#333" stroke-width="1.1"/>
<rect x="2792.8" y="73.0" width="6" height="6" fill="#333"/>
<rect x="2792.8" y="83.4" width="6" height="6" fill="#333"/>
<rect x="2792.8" y="93.8" width="6" height="6" fill="#333"/>

</svg>
<div class="abs" style="left:0;top:2px;width:110px;height:1626px;background:#000;border-radius:0 16px 16px 0;box-shadow:0 0 40px rgba(0,0,0,.43)"></div>
<div class="abs" style="left:0;top:215px;width:110px;height:101px;background:#1c1c1c"></div>
<svg class="abs" style="left:0;top:0" width="110" height="1628" viewBox="0 0 110 1628">
<defs>
<linearGradient id="gStar" gradientUnits="userSpaceOnUse" x1="39" y1="186" x2="50" y2="171"><stop offset="0" stop-color="#f5e200" stop-opacity="0"/><stop offset=".35" stop-color="#e8d600" stop-opacity=".55"/><stop offset="1" stop-color="#f5e200"/></linearGradient>
<linearGradient id="gStar2" gradientUnits="userSpaceOnUse" x1="54" y1="158" x2="56" y2="175"><stop offset="0" stop-color="#4f4a00"/><stop offset=".5" stop-color="#8f8600"/><stop offset="1" stop-color="#dccf00"/></linearGradient>
<linearGradient id="gGa" gradientUnits="userSpaceOnUse" x1="35" y1="281" x2="40" y2="260"><stop offset="0" stop-color="#1c2f45"/><stop offset=".45" stop-color="#2663b0"/><stop offset="1" stop-color="#2b86f2"/></linearGradient>
<linearGradient id="gGb" gradientUnits="userSpaceOnUse" x1="60" y1="268" x2="65" y2="278"><stop offset="0" stop-color="#12325c"/><stop offset="1" stop-color="#12325c" stop-opacity=".25"/></linearGradient>
<linearGradient id="gGc" gradientUnits="userSpaceOnUse" x1="64" y1="258" x2="72" y2="270"><stop offset="0" stop-color="#0c2240"/><stop offset=".5" stop-color="#1f5fb0"/><stop offset="1" stop-color="#2b86f2"/></linearGradient>
<linearGradient id="gNeedle" gradientUnits="userSpaceOnUse" x1="62" y1="262" x2="74" y2="270"><stop offset="0" stop-color="#000"/><stop offset=".55" stop-color="#050505"/><stop offset="1" stop-color="#0a0a0a" stop-opacity=".2"/></linearGradient>
<linearGradient id="gSh" gradientUnits="userSpaceOnUse" x1="55" y1="349" x2="55" y2="393"><stop offset="0" stop-color="#ff8c12"/><stop offset=".6" stop-color="#f98410"/><stop offset="1" stop-color="#5e3003"/></linearGradient>
<linearGradient id="gSh2" gradientUnits="userSpaceOnUse" x1="55" y1="359" x2="55" y2="380"><stop offset="0" stop-color="#6b3604"/><stop offset=".5" stop-color="#ff8c12"/><stop offset="1" stop-color="#ff8c12"/></linearGradient>
<linearGradient id="gEy1" gradientUnits="userSpaceOnUse" x1="36" y1="465" x2="78" y2="465"><stop offset="0" stop-color="#4a1414"/><stop offset=".5" stop-color="#f24a4a"/><stop offset="1" stop-color="#f24a4a"/></linearGradient>
<linearGradient id="gEy2" gradientUnits="userSpaceOnUse" x1="34" y1="480" x2="74" y2="480"><stop offset="0" stop-color="#f24a4a"/><stop offset=".5" stop-color="#f24a4a"/><stop offset="1" stop-color="#4a1414"/></linearGradient>
<linearGradient id="gEy3" gradientUnits="userSpaceOnUse" x1="56" y1="464" x2="56" y2="480"><stop offset="0" stop-color="#3a0f0f"/><stop offset=".5" stop-color="#f24a4a"/><stop offset="1" stop-color="#f24a4a"/></linearGradient>
<linearGradient id="gDoc" gradientUnits="userSpaceOnUse" x1="48" y1="556" x2="75" y2="589"><stop offset="0" stop-color="#f050f0"/><stop offset=".6" stop-color="#ee52ee"/><stop offset="1" stop-color="#9a369a"/></linearGradient>
<linearGradient id="gDl" gradientUnits="userSpaceOnUse" x1="40" y1="0" x2="62" y2="0"><stop offset="0" stop-color="#f255f2" stop-opacity="0"/><stop offset=".55" stop-color="#f255f2"/><stop offset="1" stop-color="#f255f2"/></linearGradient>
<linearGradient id="gDr" gradientUnits="userSpaceOnUse" x1="40" y1="0" x2="62" y2="0"><stop offset="0" stop-color="#f255f2"/><stop offset=".4" stop-color="#f255f2"/><stop offset="1" stop-color="#f255f2" stop-opacity="0"/></linearGradient>
<linearGradient id="gMo" gradientUnits="userSpaceOnUse" x1="38" y1="660" x2="73" y2="680"><stop offset="0" stop-color="#26dc9c"/><stop offset=".45" stop-color="#1fae7c"/><stop offset="1" stop-color="#0a2e22"/></linearGradient>
<linearGradient id="gMs" gradientUnits="userSpaceOnUse" x1="44" y1="0" x2="64" y2="0"><stop offset="0" stop-color="#26dc9c" stop-opacity="0"/><stop offset=".6" stop-color="#26dc9c"/><stop offset="1" stop-color="#2ee0a2"/></linearGradient>
<linearGradient id="gPm" gradientUnits="userSpaceOnUse" x1="60" y1="0" x2="77" y2="0"><stop offset="0" stop-color="#a545e8" stop-opacity=".15"/><stop offset=".7" stop-color="#a545e8"/><stop offset="1" stop-color="#b050f0"/></linearGradient>
<linearGradient id="gCa" gradientUnits="userSpaceOnUse" x1="33" y1="864" x2="76" y2="884"><stop offset="0" stop-color="#17787c"/><stop offset=".5" stop-color="#1ea5a5"/><stop offset="1" stop-color="#22d8d8"/></linearGradient>
<linearGradient id="gCb" gradientUnits="userSpaceOnUse" x1="54" y1="0" x2="76" y2="0"><stop offset="0" stop-color="#22d8d8" stop-opacity="0"/><stop offset=".6" stop-color="#22cfd0"/><stop offset="1" stop-color="#25e0e0"/></linearGradient>
<linearGradient id="gRl" gradientUnits="userSpaceOnUse" x1="40" y1="0" x2="56" y2="0"><stop offset="0" stop-color="#70eaa9"/><stop offset=".6" stop-color="#6be0a2"/><stop offset="1" stop-color="#2d6e4e"/></linearGradient>
</defs>
<!-- left hairline -->
<rect x="0" y="2" width="1" height="1626" fill="#2a2a2a"/>
<!-- logo -->
<rect x="17" y="18" width="77" height="77" rx="11" fill="#fff"/>
<path d="M88 20.6 A11 11 0 0 1 94 29 V84 A11 11 0 0 1 88 92.4 Z" fill="#10c963"/>
<path d="M59 35.4 A20.2 20.2 0 0 0 59 75.8 V67.8 A12.2 12.2 0 0 1 59 43.4 Z" fill="#1c1c1e"/>
<path d="M60.2 44.8 A10.8 10.8 0 0 1 60.2 66.4 Z" fill="#1c1c1e"/>
<!-- dividers -->
<g fill="#444">
<rect x="17" y="112" width="77" height="2"/>
<rect x="17" y="213.5" width="77" height="2"/>
<rect x="17" y="315" width="77" height="2"/>
<rect x="17" y="416.7" width="77" height="2"/>
<rect x="17" y="518.3" width="77" height="2"/>
<rect x="17" y="620" width="77" height="2"/>
<rect x="17" y="721.7" width="77" height="2"/>
<rect x="17" y="823.5" width="77" height="2"/>
<rect x="21.5" y="1037" width="68" height="2"/>
<rect x="21.5" y="1147.7" width="68" height="2"/>
</g>
<rect x="0" y="1542" width="110" height="1.6" fill="#333"/>
<!-- star -->
<path d="M54.5 148.3 L59.6 158.7 L71.0 160.3 L62.8 168.4 L64.7 179.8 L54.5 174.4 L44.3 179.8 L46.2 168.4 L38.0 160.3 L49.4 158.7 Z" fill="none" stroke="url(#gStar)" stroke-width="4.1" stroke-linejoin="miter"/>
<path d="M54.6 159.7 L56.6 163.5 L60.9 164.3 L57.8 167.4 L58.5 171.6 L54.6 169.7 L50.7 171.6 L51.4 167.4 L48.3 164.3 L52.6 163.5 Z" fill="none" stroke="url(#gStar2)" stroke-width="2.1" stroke-linejoin="miter"/>
<!-- gauge (active) -->
<path d="M35.6 278.1 A19.45 19.45 0 0 1 64.0 258.9" fill="none" stroke="url(#gGa)" stroke-width="6.6"/>
<path d="M44.8 277.7 A10.1 10.1 0 0 1 60.3 269.1" fill="none" stroke="#2b86f2" stroke-width="5.2"/>
<circle cx="44.8" cy="277.7" r="2.6" fill="#2b86f2"/>
<path d="M60.3 269.1 A10.1 10.1 0 0 1 65.0 277.7" fill="none" stroke="url(#gGb)" stroke-width="5.2"/>
<path d="M69.4 249.6 L80.5 258.8 L68 274 L55.6 274 Z" fill="url(#gNeedle)"/>
<path d="M65.5 259.8 A19.45 19.45 0 0 1 74.2 278.1" fill="none" stroke="url(#gGc)" stroke-width="6.4" stroke-linecap="round"/>
<!-- shield -->
<path d="M55.5 352.5 C50 356.5 44 358.6 39.3 359 C39.3 372 43.5 382.5 55.5 388.8 C67.5 382.5 71.7 372 71.7 359 C67 358.6 61 356.5 55.5 352.5 Z" fill="none" stroke="url(#gSh)" stroke-width="6" stroke-linejoin="round"/>
<path d="M55.5 363.4 C53.5 364.9 51.3 365.7 49.4 365.9 C49.5 371 51 375 55.5 377.9 C60 375 61.5 371 61.6 365.9 C59.7 365.7 57.5 364.9 55.5 363.4 Z" fill="none" stroke="url(#gSh2)" stroke-width="4.1" stroke-linejoin="round"/>
<!-- eye -->
<path d="M37.8 466 C44 459.8 51 458.2 56 458.2 C63 458.2 69.5 461.2 74.8 468.6" fill="none" stroke="url(#gEy1)" stroke-width="5.2" stroke-linecap="round"/>
<path d="M36.4 473.4 C42 480 49 483.4 56 483.4 C62 483.4 68 481.6 72.3 477.8" fill="none" stroke="url(#gEy2)" stroke-width="5.2" stroke-linecap="round"/>
<circle cx="55.8" cy="471.8" r="5.6" fill="none" stroke="url(#gEy3)" stroke-width="4.7"/>
<!-- document -->
<path d="M50.6 565 V557.9 H66 L72.3 564.2 V586.5 H64.5" fill="none" stroke="url(#gDoc)" stroke-width="5" stroke-linejoin="round" stroke-linecap="round"/>
<path d="M62.5 557.9 H66 L72.3 564.2 V569 H62.5 Z" fill="#ee52ee"/>
<path d="M42 572 H61.5" stroke="url(#gDl)" stroke-width="5" stroke-linecap="round"/>
<path d="M42.8 579.1 H59" stroke="url(#gDr)" stroke-width="5" stroke-linecap="round"/>
<path d="M42 586 H61.5" stroke="url(#gDl)" stroke-width="5" stroke-linecap="round"/>
<!-- monitor -->
<rect x="40.2" y="660.5" width="30.2" height="21" rx="2.5" fill="none" stroke="url(#gMo)" stroke-width="5"/>
<path d="M46 688 H62" stroke="url(#gMs)" stroke-width="4.6" stroke-linecap="round"/>
<!-- share/graph -->
<circle cx="46.4" cy="774.5" r="7.8" fill="none" stroke="#9b43d6" stroke-width="6.6"/>
<path d="M57.2 765.7 L69.5 758.8" stroke="#a249e2" stroke-width="5.4" stroke-linecap="round"/>
<path d="M62 775.2 H76" stroke="url(#gPm)" stroke-width="5.4" stroke-linecap="round"/>
<path d="M57.2 783.2 L69.5 791.2" stroke="#a249e2" stroke-width="5.4" stroke-linecap="round"/>
<!-- cart -->
<path d="M34.5 864 H42 L47.6 884.5 H70.2" fill="none" stroke="url(#gCa)" stroke-width="5" stroke-linecap="round" stroke-linejoin="round"/>
<path d="M55.5 865.8 H75.2 L69.2 879.3 H56" fill="none" stroke="url(#gCb)" stroke-width="4.6" stroke-linecap="round" stroke-linejoin="round"/>
<ellipse cx="52" cy="891.6" rx="2.6" ry="2" fill="#1fb4b4"/>
<ellipse cx="66.3" cy="891.6" rx="2.6" ry="2" fill="#1fb4b4"/>
<!-- green ring -->
<path d="M55 1081.1 A12.25 12.25 0 0 0 55 1105.6" fill="none" stroke="url(#gRl)" stroke-width="7"/>
<path d="M56.6 1077.6 A15.75 15.75 0 0 1 67.5 1104.6 L56.6 1112.2 V1102.1 A8.75 8.75 0 0 0 56.6 1084.6 Z" fill="#70eaa9"/>
<!-- gear -->
<g transform="translate(55.4 1205)" fill="#fff">
<circle r="9.6"/>
<g><rect x="-3.1" y="-13.4" width="6.2" height="6" rx="1"/><rect x="-3.1" y="7.4" width="6.2" height="6" rx="1"/><rect x="-13.4" y="-3.1" width="6" height="6.2" rx="1"/><rect x="7.4" y="-3.1" width="6" height="6.2" rx="1"/></g>
<g transform="rotate(45)"><rect x="-3.1" y="-13.4" width="6.2" height="6" rx="1"/><rect x="-3.1" y="7.4" width="6.2" height="6" rx="1"/><rect x="-13.4" y="-3.1" width="6" height="6.2" rx="1"/><rect x="7.4" y="-3.1" width="6" height="6.2" rx="1"/></g>
<circle r="4.9" fill="#000"/>
</g>
<!-- grid -->
<g fill="#fff">
<rect x="42.3" y="1251" width="7" height="7"/><rect x="52" y="1251" width="7" height="7"/><rect x="61.7" y="1251" width="7" height="7"/>
<rect x="42.3" y="1260.6" width="7" height="7"/><rect x="52" y="1260.6" width="7" height="7"/><rect x="61.7" y="1260.6" width="7" height="7"/>
<rect x="42.3" y="1270.2" width="7" height="7"/><rect x="52" y="1270.2" width="7" height="7"/><rect x="61.7" y="1270.2" width="7" height="7"/>
</g>
<!-- bell -->
<path d="M55 1312.5 C49.5 1312.5 48.2 1317.5 48.2 1321 C48.2 1326 46.5 1327.8 44.8 1329.6 V1331.5 H65.3 V1329.6 C63.6 1327.8 61.9 1326 61.9 1321 C61.9 1317.5 60.5 1312.5 55 1312.5 Z" fill="#fff"/>
<path d="M51.3 1332.8 H58.7 A3.7 3.3 0 0 1 51.3 1332.8 Z" fill="#fff"/>
<circle cx="65" cy="1314" r="7.4" fill="#000"/>
<circle cx="65" cy="1314" r="5.8" fill="#ff6b6b"/>
<!-- help -->
<circle cx="55.5" cy="1385.1" r="16.2" fill="none" stroke="#fff" stroke-width="2.6"/>
<!-- avatar -->
<rect x="9.7" y="1439.6" width="91.2" height="90" rx="14" fill="none" stroke="#474747" stroke-width="2"/>
<!-- chevron -->
<path d="M51.2 1578.4 L59.5 1586.2 L51.2 1594" fill="none" stroke="#ededed" stroke-width="4.4" stroke-linecap="round" stroke-linejoin="round"/>
</svg>

<span class="t" style='left:293.5px;top:59.6px;font-size:59.5px;line-height:59.5px;color:#2a2a2a;transform:scaleX(0.9732);'>API security management</span>
<span class="t" style='left:2104.5px;top:69.2px;font-size:30px;line-height:30px;color:#8c8c8c;font-style:italic;transform:scaleX(0.9441);'>Data is up to date</span>
<span class="t" style='left:2408.3px;top:75.5px;font-size:24.5px;line-height:24.5px;color:#fff;-webkit-text-stroke:0.95px #fff;transform:scaleX(1.0170);'>Last 3 months</span>
<span class="t" style='left:179.3px;top:265.2px;font-size:84px;line-height:84px;color:#333;-webkit-text-stroke:2.8px #333;transform:scaleX(0.9462);'>3.5</span>
<span class="t" style='left:293.0px;top:292.3px;font-size:52px;line-height:52px;color:#333;-webkit-text-stroke:1.2px #333;transform:scaleX(0.8793);'>K</span>
<span class="t" style='left:343.5px;top:307.9px;font-size:33.5px;line-height:33.5px;color:#6a6a6a;-webkit-text-stroke:0.9px #6a6a6a;transform:scaleX(0.9739);'>+453</span>
<span class="t" style='left:644.3px;top:265.2px;font-size:84px;line-height:84px;color:#333;-webkit-text-stroke:2.8px #333;transform:scaleX(0.9846);'>42</span>
<span class="t" style='left:741.5px;top:292.3px;font-size:52px;line-height:52px;color:#333;-webkit-text-stroke:1.2px #333;transform:scaleX(0.8793);'>K</span>
<span class="t" style='left:1106.5px;top:265.2px;font-size:84px;line-height:84px;color:#333;-webkit-text-stroke:2.8px #333;transform:scaleX(1.0774);'>290</span>
<span class="t" style='left:1260.8px;top:292.3px;font-size:52px;line-height:52px;color:#333;-webkit-text-stroke:1.2px #333;transform:scaleX(0.9679);'>MB</span>
<span class="t" style='left:1573.5px;top:265.2px;font-size:84px;line-height:84px;color:#333;-webkit-text-stroke:2.8px #333;transform:scaleX(0.9918);'>367</span>
<span class="t" style='left:2033.2px;top:265.2px;font-size:84px;line-height:84px;color:#333;-webkit-text-stroke:2.8px #333;transform:scaleX(1.0724);'>709</span>
<span class="t" style='left:2499.0px;top:265.2px;font-size:84px;line-height:84px;color:#333;-webkit-text-stroke:2.8px #333;transform:scaleX(1.0381);'>4</span>
<span class="t" style='left:179.5px;top:376.2px;font-size:32px;line-height:32px;color:#222;transform:scaleX(1.0190);'>Total APIs</span>
<span class="t" style='left:644.0px;top:376.2px;font-size:32px;line-height:32px;color:#222;transform:scaleX(1.0221);'>Total Request</span>
<span class="t" style='left:1104.5px;top:376.2px;font-size:32px;line-height:32px;color:#222;transform:scaleX(1.0683);'>Bytes</span>
<span class="t" style='left:1572.0px;top:376.2px;font-size:32px;line-height:32px;color:#222;transform:scaleX(1.0465);'>Total Attacks</span>
<span class="t" style='left:2035.0px;top:376.2px;font-size:32px;line-height:32px;color:#222;transform:scaleX(1.0084);'>Total Risks</span>
<span class="t" style='left:2497.0px;top:376.2px;font-size:32px;line-height:32px;color:#222;transform:scaleX(1.0500);'>Errors count</span>
<span class="t" style='left:161.5px;top:582.4px;font-size:28.5px;line-height:28.5px;color:#222;-webkit-text-stroke:0.85px #222;transform:scaleX(1.0728);'>Total traffic over time</span>
<span class="t" style='left:1602.7px;top:582.2px;font-size:28.5px;line-height:28.5px;color:#222;-webkit-text-stroke:0.85px #222;transform:scaleX(1.0230);'>Risky API Funnel</span>
<span class="t" style='left:161.5px;top:1306.2px;font-size:28.5px;line-height:28.5px;color:#222;-webkit-text-stroke:0.85px #222;transform:scaleX(1.0381);'>Traffic by region</span>
<span class="t" style='left:1602.3px;top:1306.2px;font-size:28.5px;line-height:28.5px;color:#222;-webkit-text-stroke:0.85px #222;transform:scaleX(1.0338);'>Issues by severity over time</span>
<span class="t" style='left:180.5px;top:630.0px;font-size:26px;line-height:26px;color:#b5b5b5;transform:scaleX(0.9663);'>Total Traffic</span>
<span class="t" style='left:367.0px;top:630.0px;font-size:26px;line-height:26px;color:#b5b5b5;transform:scaleX(0.9619);'>Attacks</span>
<span class="t" style='left:178.5px;top:1352.0px;font-size:26px;line-height:26px;color:#b5b5b5;transform:scaleX(0.9650);'>Attack source</span>
<span class="t" style='left:1621.5px;top:1352.0px;font-size:26px;line-height:26px;color:#b5b5b5;transform:scaleX(0.9943);'>Critical</span>
<span class="t" style='left:1752.5px;top:1352.0px;font-size:26px;line-height:26px;color:#b5b5b5;transform:scaleX(0.9909);'>High</span>
<span class="t" style='left:1856.5px;top:1352.0px;font-size:26px;line-height:26px;color:#b5b5b5;transform:scaleX(0.9948);'>Medium</span>
<span class="t" style='left:2000.5px;top:1352.0px;font-size:26px;line-height:26px;color:#b5b5b5;transform:scaleX(0.9643);'>Low</span>
<span class="t" style='left:206.2px;top:716.4px;font-size:17px;line-height:17px;color:#989898;transform:scaleX(1.0220);'>100</span>
<span class="t" style='left:211.4px;top:811.9px;font-size:17px;line-height:17px;color:#989898;transform:scaleX(0.9513);'>75</span>
<span class="t" style='left:210.7px;top:907.0px;font-size:17px;line-height:17px;color:#989898;transform:scaleX(1.0306);'>50</span>
<span class="t" style='left:211.2px;top:1002.4px;font-size:17px;line-height:17px;color:#989898;transform:scaleX(0.9777);'>25</span>
<span class="t" style='left:268.3px;top:1087.2px;font-size:17px;line-height:17px;color:#9c9c9c;-webkit-text-stroke:0.6px #9c9c9c;transform:scaleX(1.0226);'>March</span>
<span class="t" style='left:768.0px;top:1087.2px;font-size:17px;line-height:17px;color:#9c9c9c;-webkit-text-stroke:0.6px #9c9c9c;transform:scaleX(1.0730);'>April</span>
<span class="t" style='left:1260.3px;top:1087.2px;font-size:17px;line-height:17px;color:#9c9c9c;-webkit-text-stroke:0.6px #9c9c9c;transform:scaleX(1.0579);'>Today</span>
<span class="t" style='left:1600.3px;top:1477.3px;font-size:17px;line-height:17px;color:#989898;transform:scaleX(1.0220);'>100</span>
<span class="t" style='left:1607.0px;top:1541.1px;font-size:17px;line-height:17px;color:#989898;transform:scaleX(0.9513);'>75</span>
<span class="t" style='left:1604.5px;top:1602.3px;font-size:17px;line-height:17px;color:#989898;transform:scaleX(1.0834);'>50</span>
<span class="t" style='left:2258.5px;top:847.6px;font-size:22.5px;line-height:22.5px;color:#1c1c1c;-webkit-text-stroke:0.6px #1c1c1c;transform:scaleX(0.9501);'>3,531</span>
<span class="t" style='left:2258.5px;top:898.5px;font-size:22.5px;line-height:22.5px;color:#1c1c1c;-webkit-text-stroke:0.6px #1c1c1c;transform:scaleX(0.9589);'>1,259</span>
<span class="t" style='left:2258.5px;top:949.4px;font-size:22.5px;line-height:22.5px;color:#1c1c1c;-webkit-text-stroke:0.6px #1c1c1c;transform:scaleX(1.0254);'>243</span>
<span class="t" style='left:2258.5px;top:1000.2px;font-size:22.5px;line-height:22.5px;color:#1c1c1c;-webkit-text-stroke:0.6px #1c1c1c;transform:scaleX(0.9588);'>53</span>
<span class="t" style='left:2356.0px;top:847.6px;font-size:22.5px;line-height:22.5px;color:#222;transform:scaleX(1.0094);'>Total APIs</span>
<span class="t" style='left:2462.0px;top:847.6px;font-size:22.5px;line-height:22.5px;color:#7a7a7a;transform:scaleX(1.0045);'>(+12%)</span>
<span class="t" style='left:2356.0px;top:898.5px;font-size:22.5px;line-height:22.5px;color:#222;transform:scaleX(1.0380);'>Internet exposed</span>
<span class="t" style='left:2535.5px;top:898.5px;font-size:22.5px;line-height:22.5px;color:#7a7a7a;transform:scaleX(0.9809);'>(+2%)</span>
<span class="t" style='left:2356.0px;top:949.4px;font-size:22.5px;line-height:22.5px;color:#222;transform:scaleX(1.0082);'>Sensitive data</span>
<span class="t" style='left:2504.8px;top:949.4px;font-size:22.5px;line-height:22.5px;color:#7a7a7a;transform:scaleX(0.9818);'>(-1%)</span>
<span class="t" style='left:2356.0px;top:1000.2px;font-size:22.5px;line-height:22.5px;color:#222;transform:scaleX(1.0096);'>High severity issues</span>
<span class="t" style='left:2564.0px;top:1000.2px;font-size:22.5px;line-height:22.5px;color:#7a7a7a;transform:scaleX(0.9776);'>(+8%)</span>
<span class="t" style='left:39.5px;top:1472.7px;font-size:27.5px;line-height:27.5px;color:#d8d8d8;-webkit-text-stroke:0.5px #d8d8d8;transform:scaleX(0.9219);'>JH</span>
<span class="t" style='left:48.2px;top:1373.4px;font-size:24px;line-height:24px;color:#fff;font-weight:bold;'>?</span>
</div>
</body></html>
